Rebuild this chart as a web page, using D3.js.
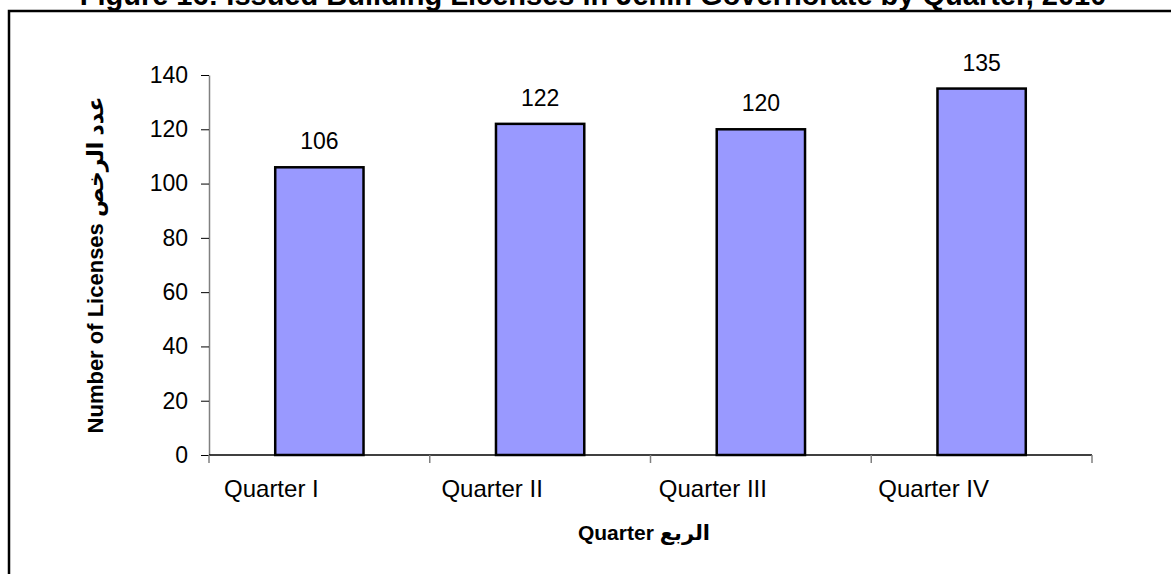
<!DOCTYPE html>
<html>
<head>
<meta charset="utf-8">
<script src="https://cdn.jsdelivr.net/npm/d3@7"></script>
<style>
  html, body { margin: 0; padding: 0; background: #fff; }
  svg { display: block; }
  text { font-family: "Liberation Sans", Arial, "DejaVu Sans", sans-serif; fill: #000; }
</style>
</head>
<body>
<svg id="chart" width="1171" height="574"></svg>
<script>
const categories = ["Quarter I", "Quarter II", "Quarter III", "Quarter IV"];
const values = [106, 122, 120, 135];
const yTicks = [0, 20, 40, 60, 80, 100, 120, 140];
const titleText = "Figure 16: Issued Building Licenses in Jenin Governorate by Quarter, 2010";
const xTitle = "Quarter الربع";
const yTitle = "Number of Licenses عدد الرخص";

const svg = d3.select("#chart");

// title (mostly cut off at the top edge, as in the reference)
svg.append("text")
  .attr("x", 593).attr("y", 5)
  .attr("text-anchor", "middle")
  .attr("font-weight", "bold")
  .attr("font-size", 29)
  .text(titleText);

// frame (clipped on right and bottom)
svg.append("rect")
  .attr("x", 9).attr("y", 11)
  .attr("width", 1180).attr("height", 600)
  .attr("fill", "#fff").attr("fill-opacity", 0).attr("stroke", "#000").attr("stroke-width", 2.5);

const pLeft = 209, pRight = 1092, pTop = 75, pBottom = 455;

const x = d3.scaleBand().domain(categories).range([pLeft, pRight]).paddingInner(0.6).paddingOuter(0.3);
const xOuter = d3.scaleBand().domain(categories).range([pLeft, pRight]);
const y = d3.scaleLinear().domain([0, 140]).range([pBottom, pTop]);

// y axis
const yAxis = svg.append("g")
  .attr("transform", `translate(${pLeft},0)`)
  .call(d3.axisLeft(y).tickValues(yTicks).tickSize(8).tickPadding(13).tickSizeOuter(0));
yAxis.select(".domain").attr("stroke", "#808080").attr("stroke-width", 1.5);
yAxis.selectAll(".tick line").attr("stroke", "#000").attr("stroke-width", 1);
yAxis.selectAll(".tick text").attr("font-size", 23).attr("font-family", "Liberation Sans, Arial, sans-serif").attr("fill", "#000");

// bars
svg.selectAll("rect.bar")
  .data(values)
  .enter().append("rect")
  .attr("class", "bar")
  .attr("x", (d, i) => x(categories[i]))
  .attr("y", d => y(d))
  .attr("width", x.bandwidth())
  .attr("height", d => pBottom - y(d))
  .attr("fill", "#9999FF")
  .attr("stroke", "#000")
  .attr("stroke-width", 2.5);

// x axis line
svg.append("line")
  .attr("x1", pLeft).attr("x2", pRight)
  .attr("y1", pBottom).attr("y2", pBottom)
  .attr("stroke", "#000").attr("stroke-width", 1.5);

// x tick marks at band boundaries
const boundaries = categories.map(c => xOuter(c)).concat([pRight]);
svg.selectAll("line.xtick")
  .data(boundaries)
  .enter().append("line")
  .attr("class", "xtick")
  .attr("x1", d => d).attr("x2", d => d)
  .attr("y1", pBottom).attr("y2", pBottom + 8)
  .attr("stroke", "#808080").attr("stroke-width", 1.5);

// x labels
svg.selectAll("text.xlabel")
  .data(categories)
  .enter().append("text")
  .attr("class", "xlabel")
  .attr("x", d => xOuter(d) + xOuter.bandwidth() / 2 - 48)
  .attr("y", 497)
  .attr("text-anchor", "middle")
  .attr("font-size", 24)
  .text(d => d);

// value labels
svg.selectAll("text.val")
  .data(values)
  .enter().append("text")
  .attr("class", "val")
  .attr("x", (d, i) => x(categories[i]) + x.bandwidth() / 2)
  .attr("y", d => y(d) - 18)
  .attr("text-anchor", "middle")
  .attr("font-size", 23)
  .text(d => d);

// x axis title
svg.append("text")
  .attr("x", 644).attr("y", 540)
  .attr("text-anchor", "middle")
  .attr("font-weight", "bold")
  .attr("font-size", 21)
  .attr("direction", "ltr")
  .text(xTitle);

// y axis title
svg.append("text")
  .attr("transform", "translate(103,265) rotate(-90)")
  .attr("text-anchor", "middle")
  .attr("font-weight", "bold")
  .attr("font-size", 22)
  .attr("direction", "ltr")
  .text(yTitle);
</script>
</body>
</html>
